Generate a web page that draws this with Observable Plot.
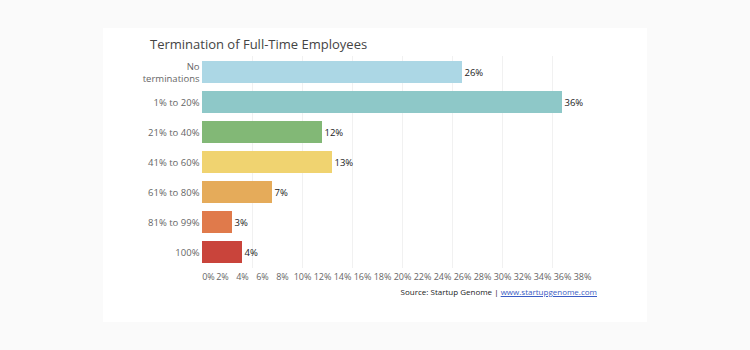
<!DOCTYPE html>
<html>
<head>
<meta charset="utf-8">
<script src="https://cdn.jsdelivr.net/npm/d3@7"></script>
<script src="https://cdn.jsdelivr.net/npm/@observablehq/plot@0.6"></script>
<style>
  html, body { margin: 0; padding: 0; background: #fafafa; }
  #wrap { position: relative; width: 750px; height: 350px; overflow: hidden; font-family: "Open Sans", sans-serif; }
  #panel { position: absolute; left: 103px; top: 28px; width: 544px; height: 294px; background: #fff; }
  #title { position: absolute; left: 150px; top: 35px; font-size: 13px; color: #444; white-space: nowrap; }
  #chart { position: absolute; left: 0; top: 0; }
  #source { position: absolute; right: 153px; top: 286px; font-size: 8px; color: #222; white-space: nowrap; }
  #source a { color: #3b5cc4; text-decoration: underline; }
</style>
</head>
<body>
<div id="wrap">
  <div id="panel"></div>
  <div id="chart"></div>
  <div id="title">Termination of Full-Time Employees</div>
  <div id="source">Source: Startup Genome | <a>www.startupgenome.com</a></div>
</div>
<script>
const categories = ["No terminations", "1% to 20%", "21% to 40%", "41% to 60%", "61% to 80%", "81% to 99%", "100%"];
const values = [26, 36, 12, 13, 7, 3, 4];
const colors = ["#acd7e5", "#8ec8c8", "#82b876", "#f0d370", "#e5ab5a", "#e07a4b", "#c9443b"];
const xTicks = d3.range(0, 39, 2);
const gridTicks = [5, 10, 15, 20, 25, 30, 35];

const data = categories.map((c, i) => ({category: c, value: values[i], color: colors[i]}));

const chart = Plot.plot({
  width: 750,
  height: 350,
  marginLeft: 202,
  marginRight: 158,
  marginTop: 56,
  marginBottom: 82,
  style: {background: "transparent", fontFamily: "Open Sans, sans-serif"},
  x: {domain: [0, 39]},
  y: {domain: categories, paddingInner: 0.28, paddingOuter: 0.115},
  marks: [
    Plot.gridX(gridTicks, {stroke: "#f1f1f1", strokeOpacity: 1}),
    Plot.barX(data, {y: "category", x: "value", fill: "color"}),
    Plot.text(data, {y: "category", x: "value", text: d => d.value + "%", textAnchor: "start", dx: 2, fontSize: 9.5, fill: "#222"}),
    Plot.axisY({tickSize: 0, tickPadding: 3, fontSize: 9.5, color: "#666", label: null,
      tickFormat: d => d === "No terminations" ? "No\nterminations" : d, lineHeight: 1.25}),
    Plot.axisX([0], {tickSize: 0, tickPadding: 5, fontSize: 9, color: "#666", dx: 6, tickFormat: d => d + "%", label: null}),
    Plot.axisX(xTicks.filter(d => d > 0), {tickSize: 0, tickPadding: 5, fontSize: 9, color: "#666", tickFormat: d => d + "%", label: null})
  ]
});
document.getElementById("chart").appendChild(chart);
</script>
</body>
</html>
